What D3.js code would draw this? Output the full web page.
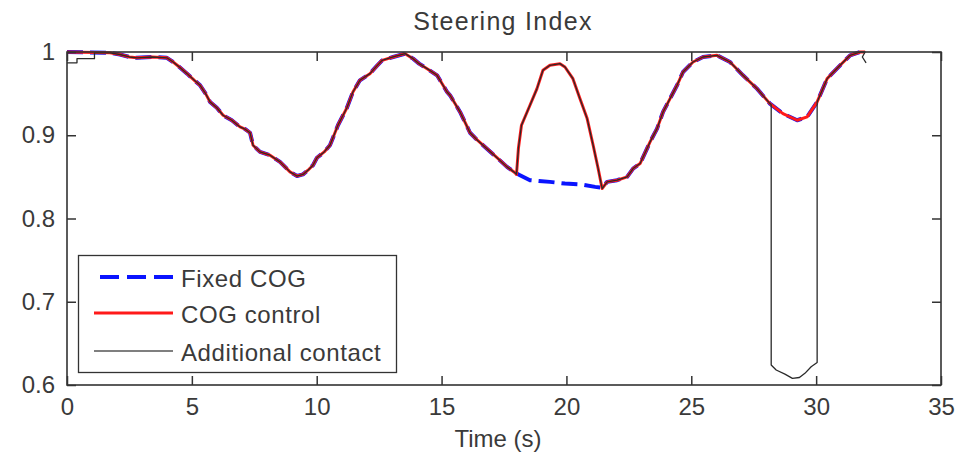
<!DOCTYPE html>
<html>
<head>
<meta charset="utf-8">
<script src="https://cdn.jsdelivr.net/npm/d3@7"></script>
<style>
  html, body { margin: 0; padding: 0; background: #fff; }
  svg { display: block; font-family: "Liberation Sans", Arial, sans-serif; }
</style>
</head>
<body>
<svg id="chart" width="970" height="457"></svg>
<script>
// Steering index traces, [time (s), index]
const commonStart = [
  [0, 1.0], [1.72, 0.999], [2.12, 0.997], [2.5, 0.994], [2.8, 0.993], [3.4, 0.994], [4.0, 0.993],
  [4.25, 0.988], [4.5, 0.982], [4.81, 0.974], [5.1, 0.966], [5.33, 0.960], [5.55, 0.950],
  [5.73, 0.940], [6.0, 0.933], [6.25, 0.924], [6.6, 0.918], [6.93, 0.910], [7.15, 0.907],
  [7.33, 0.903], [7.45, 0.888], [7.73, 0.880], [8.13, 0.876], [8.53, 0.868], [8.93, 0.856],
  [9.21, 0.851], [9.45, 0.853], [9.65, 0.858], [9.85, 0.864], [10.01, 0.873], [10.3, 0.880],
  [10.53, 0.888], [10.85, 0.912], [11.21, 0.933], [11.45, 0.952], [11.73, 0.966],
  [12.13, 0.974], [12.4, 0.983], [12.62, 0.990], [13.06, 0.994], [13.54, 0.998],
  [13.86, 0.992], [14.1, 0.986], [14.42, 0.980], [14.82, 0.972], [15.22, 0.952],
  [15.34, 0.948], [15.74, 0.928], [16.14, 0.903], [16.4, 0.895], [16.66, 0.888],
  [17.22, 0.873], [17.62, 0.862], [17.94, 0.855]
];

// Stretch where the fixed-COG run stays low
const fixedDip = [
  [18.14, 0.852], [18.54, 0.846], [18.9, 0.845], [19.34, 0.844], [19.94, 0.842],
  [20.54, 0.841], [21.15, 0.838], [21.43, 0.837]
];

// Stretch where COG control recovers the index
const controlPeak = [
  [18.0, 0.853], [18.08, 0.885], [18.2, 0.912], [18.54, 0.936], [18.82, 0.956],
  [19.06, 0.978], [19.34, 0.984], [19.74, 0.986], [19.94, 0.982], [20.26, 0.968],
  [20.54, 0.944], [20.83, 0.920], [21.07, 0.888], [21.27, 0.860], [21.43, 0.836]
];

const commonEnd = [
  [21.63, 0.844], [22.03, 0.846], [22.43, 0.850], [22.67, 0.860], [22.95, 0.866],
  [23.35, 0.892], [23.63, 0.908], [23.87, 0.928], [24.15, 0.944], [24.43, 0.960],
  [24.67, 0.976], [25.07, 0.988], [25.47, 0.994], [26.03, 0.996], [26.55, 0.988],
  [27.07, 0.972], [27.63, 0.956], [28.15, 0.938], [28.67, 0.926], [29.24, 0.918],
  [29.64, 0.922], [30.04, 0.940], [30.44, 0.968], [30.96, 0.984], [31.36, 0.996],
  [31.76, 1.0], [31.96, 1.0]
];

// Additional-contact run: start-up steps, drop while the extra contact is active, end hook
const contactStart = [[0, 0.987], [0.4, 0.987], [0.4, 0.992], [1.1, 0.992], [1.1, 0.999]];
const contactDrop = [
  [28.2, 0.937], [28.2, 0.624], [28.4, 0.618], [28.75, 0.613], [29.05, 0.608],
  [29.33, 0.609], [29.55, 0.614], [29.8, 0.622], [30.04, 0.627], [30.04, 0.940]
];
const contactEnd = [[31.85, 0.994], [32.0, 0.987]];

const fixedCOG = commonStart.concat(fixedDip, commonEnd);
const cogControl = commonStart.concat(controlPeak, commonEnd);
const additionalContact = contactStart.concat(
  commonStart.filter(d => d[0] >= 1.72),
  controlPeak,
  commonEnd.filter(d => d[0] < 28.2),
  contactDrop,
  commonEnd.filter(d => d[0] > 30.04),
  contactEnd
);

const xTicks = [0, 5, 10, 15, 20, 25, 30, 35];
const yTicks = [0.6, 0.7, 0.8, 0.9, 1];
const legendLabels = ["Fixed COG", "COG control", "Additional contact"];

const svg = d3.select("#chart");
const plotLeft = 67, plotRight = 941, plotTop = 52, plotBottom = 385;
const axisColor = "#333";
const textColor = "#3a3a3a";
const fontSize = 24;

const x = d3.scaleLinear().domain([0, 35]).range([plotLeft, plotRight]);
const y = d3.scaleLinear().domain([0.6, 1]).range([plotBottom, plotTop]);

const plot = svg.append("g");
plot.append("clipPath").attr("id", "clip")
  .append("rect").attr("x", plotLeft).attr("y", plotTop - 2)
  .attr("width", plotRight - plotLeft).attr("height", plotBottom - plotTop + 4);

const line = d3.line().x(d => x(d[0])).y(d => y(d[1]));
const lines = plot.append("g").attr("clip-path", "url(#clip)");

lines.append("path").datum(fixedCOG).attr("d", line)
  .attr("fill", "none").attr("stroke", "#0a14ff").attr("stroke-width", 4)
  .attr("stroke-dasharray", "16,7").attr("stroke-linejoin", "round");
lines.append("path").datum(cogControl).attr("d", line)
  .attr("fill", "none").attr("stroke", "#ff1a1a").attr("stroke-width", 3).attr("stroke-linejoin", "round");
lines.append("path").datum(additionalContact).attr("d", line)
  .attr("fill", "none").attr("stroke", "#2a2a2a").attr("stroke-width", 1.3).attr("stroke-linejoin", "round");

// Axes with inward ticks, mirrored on top and right
const tickLen = 9;
const gx = svg.append("g").attr("transform", `translate(0,${plotBottom})`)
  .call(d3.axisBottom(x).tickValues(xTicks).tickSizeInner(-tickLen).tickSizeOuter(0).tickPadding(13).tickFormat(d3.format("d")));
const gxTop = svg.append("g").attr("transform", `translate(0,${plotTop})`)
  .call(d3.axisTop(x).tickValues(xTicks).tickSizeInner(-tickLen).tickSizeOuter(0).tickFormat(""));
const gy = svg.append("g").attr("transform", `translate(${plotLeft},0)`)
  .call(d3.axisLeft(y).tickValues(yTicks).tickSizeInner(-tickLen).tickSizeOuter(0).tickPadding(12).tickFormat(d => d === 1 ? "1" : d3.format(".1f")(d)));
const gyRight = svg.append("g").attr("transform", `translate(${plotRight},0)`)
  .call(d3.axisRight(y).tickValues(yTicks).tickSizeInner(-tickLen).tickSizeOuter(0).tickFormat(""));

[gx, gxTop, gy, gyRight].forEach(g => {
  g.select(".domain").remove();
  g.selectAll(".tick line").attr("stroke", axisColor).attr("stroke-width", 1.5);
  g.selectAll(".tick text").attr("fill", textColor).attr("font-size", fontSize)
    .attr("font-family", "Liberation Sans, Arial, sans-serif");
});

svg.append("rect").attr("x", plotLeft).attr("y", plotTop)
  .attr("width", plotRight - plotLeft).attr("height", plotBottom - plotTop)
  .attr("fill", "none").attr("stroke", axisColor).attr("stroke-width", 1.6);

svg.append("text").attr("x", 503).attr("y", 30).attr("text-anchor", "middle")
  .attr("font-size", 25).attr("letter-spacing", 1.3).attr("fill", textColor).text("Steering Index");
svg.append("text").attr("x", 498).attr("y", 447).attr("text-anchor", "middle")
  .attr("font-size", fontSize).attr("fill", textColor).text("Time (s)");

// Legend
const legend = svg.append("g");
legend.append("rect").attr("x", 78.5).attr("y", 255.5).attr("width", 318).attr("height", 117)
  .attr("fill", "#fff").attr("stroke", axisColor).attr("stroke-width", 1.3);
const legendStyles = [
  { color: "#0a14ff", width: 4, dash: "19,8", x0: 100 },
  { color: "#ff1a1a", width: 3, dash: null, x0: 94 },
  { color: "#555", width: 1.6, dash: null, x0: 94 }
];
const legendLineY = [277, 313, 351];
legendLabels.forEach((label, i) => {
  const s = legendStyles[i];
  legend.append("line").attr("x1", s.x0).attr("x2", 173).attr("y1", legendLineY[i]).attr("y2", legendLineY[i])
    .attr("stroke", s.color).attr("stroke-width", s.width).attr("stroke-dasharray", s.dash);
  legend.append("text").attr("x", 181).attr("y", legendLineY[i] + 10)
    .attr("font-size", fontSize).attr("letter-spacing", 0.6).attr("fill", textColor).text(label);
});
</script>
</body>
</html>
